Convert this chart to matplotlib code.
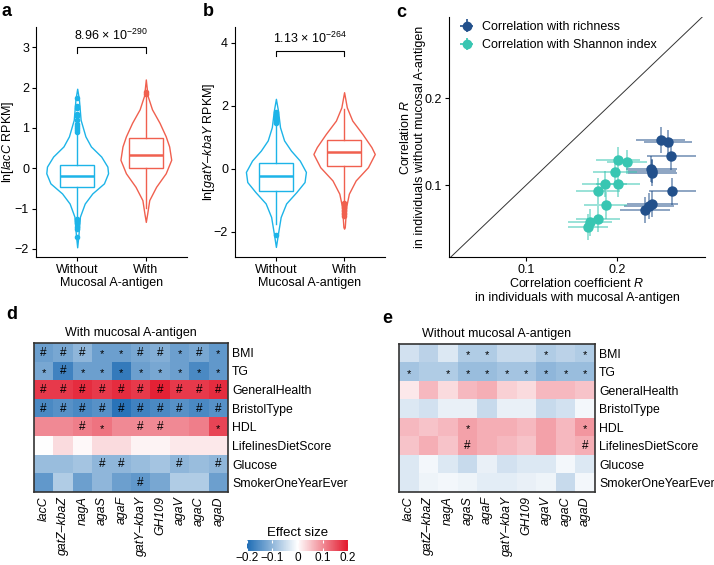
import numpy as np
import matplotlib
matplotlib.use("Agg")
import matplotlib.pyplot as plt
from matplotlib.colors import LinearSegmentedColormap, Normalize
from matplotlib.cm import ScalarMappable

plt.rcParams['font.family'] = ['Liberation Sans', 'DejaVu Sans']
plt.rcParams['mathtext.fontset'] = 'custom'
plt.rcParams['mathtext.rm'] = 'Liberation Sans'
plt.rcParams['mathtext.it'] = 'Liberation Sans:italic'
plt.rcParams['font.size'] = 9
plt.rcParams['axes.linewidth'] = 0.8

groups = ['Without', 'With']
col_without = '#1db4e8'
col_with = '#f0604f'

# violin outlines: value and half width
a_wo_y = [1.97, 1.71, 1.2, 0.79, 0.54, 0.29, 0.04, -0.125, -0.375, -0.625, -0.875, -1.2, -1.62, -1.96]
a_wo_w = [0, 0.025, 0.05, 0.12, 0.2, 0.35, 0.44, 0.45, 0.39, 0.22, 0.11, 0.04, 0.02, 0]
a_w_y = [2.2, 1.8, 1.46, 1.125, 0.79, 0.54, 0.21, -0.125, -0.46, -0.79, -1.125, -1.33]
a_w_w = [0, 0.025, 0.09, 0.2, 0.29, 0.34, 0.37, 0.29, 0.15, 0.05, 0.02, 0]
b_wo_y = [2.22, 1.85, 1.32, 0.9, 0.58, 0.26, -0.1, -0.42, -0.74, -1.1, -1.53, -2.06, -2.48]
b_wo_w = [0, 0.03, 0.06, 0.12, 0.22, 0.35, 0.44, 0.42, 0.3, 0.15, 0.07, 0.03, 0]
b_w_y = [2.43, 1.95, 1.53, 1.1, 0.69, 0.47, 0.05, -0.37, -0.79, -1.21, -1.85, -1.9]
b_w_w = [0, 0.04, 0.12, 0.27, 0.4, 0.45, 0.35, 0.17, 0.07, 0.03, 0.01, 0]

# box statistics
a_wo_box = dict(q1=-0.46, med=-0.19, q3=0.07, whislo=-1.2, whishi=0.88,
                fliers=[0.9, 0.95, 1.0, 1.05, 1.1, 1.2, 1.3, 1.35, 1.5, 1.55, 1.73,
                        -1.25, -1.3, -1.35, -1.45, -1.5, -1.7])
a_w_box = dict(q1=0.0, med=0.33, q3=0.75, whislo=-0.98, whishi=1.8, fliers=[1.85, 1.88])
b_wo_box = dict(q1=-0.71, med=-0.23, q3=0.18, whislo=-1.75, whishi=1.4,
                fliers=[1.45, 1.5, 1.55, 1.6, 1.65, 1.75, 1.8, -2.1])
b_w_box = dict(q1=0.1, med=0.53, q3=0.9, whislo=-1.05, whishi=1.9,
               fliers=[-1.1, -1.15, -1.2, -1.25, -1.3, -1.35, -1.4, -1.45, -1.5])

a_p = r'8.96 × 10$^{-290}$'
b_p = r'1.13 × 10$^{-264}$'

# panel c
rich_x = [0.2476, 0.2557, 0.2593, 0.2374, 0.2385, 0.238, 0.2604, 0.2385, 0.2348, 0.2304]
rich_y = [0.1523, 0.1492, 0.1332, 0.1187, 0.1141, 0.1165, 0.0931, 0.079, 0.076, 0.0721]
rich_xerr = [0.027, 0.026, 0.027, 0.028, 0.027, 0.026, 0.026, 0.028, 0.027, 0.027]
rich_yerr = [0.015, 0.014, 0.015, 0.015, 0.015, 0.014, 0.015, 0.015, 0.015, 0.015]
shan_x = [0.2007, 0.211, 0.1971, 0.2007, 0.1861, 0.1788, 0.1872, 0.1788, 0.1707, 0.1678]
shan_y = [0.1286, 0.1267, 0.1153, 0.1019, 0.1019, 0.0939, 0.0771, 0.0618, 0.0576, 0.0523]
shan_xerr = [0.024, 0.022, 0.024, 0.024, 0.025, 0.024, 0.024, 0.024, 0.024, 0.022]
shan_yerr = [0.015, 0.014, 0.015, 0.015, 0.015, 0.015, 0.015, 0.015, 0.015, 0.015]

# panels d/e
genes = ['lacC', 'gatZ–kbaZ', 'nagA', 'agaS', 'agaF', 'gatY–kbaY', 'GH109', 'agaV', 'agaC', 'agaD']
traits = ['BMI', 'TG', 'GeneralHealth', 'BristolType', 'HDL', 'LifelinesDietScore', 'Glucose', 'SmokerOneYearEver']
d_vals = [
    [-0.13, -0.12, -0.10, -0.13, -0.13, -0.12, -0.11, -0.13, -0.12, -0.14],
    [-0.12, -0.17, -0.13, -0.13, -0.18, -0.13, -0.12, -0.13, -0.16, -0.14],
    [0.17, 0.17, 0.18, 0.17, 0.18, 0.17, 0.19, 0.17, 0.17, 0.18],
    [-0.16, -0.15, -0.16, -0.15, -0.19, -0.17, -0.16, -0.15, -0.16, -0.15],
    [0.10, 0.10, 0.11, 0.12, 0.10, 0.10, 0.10, 0.10, 0.11, 0.16],
    [0.0, 0.03, 0.005, 0.03, 0.03, 0.01, 0.01, 0.02, 0.02, 0.02],
    [-0.09, -0.09, -0.08, -0.10, -0.10, -0.09, -0.08, -0.10, -0.09, -0.10],
    [-0.14, -0.07, -0.13, -0.10, -0.13, -0.14, -0.12, -0.07, -0.07, -0.13],
]
d_marks = [
    ['#', '#', '#', '*', '*', '#', '#', '*', '#', '*'],
    ['*', '#', '*', '*', '*', '*', '*', '*', '*', '*'],
    ['#'] * 10,
    ['#'] * 10,
    ['', '', '#', '*', '', '#', '#', '', '', '*'],
    [''] * 10,
    ['', '', '', '#', '#', '', '', '#', '', '#'],
    ['', '', '', '', '', '#', '', '', '', ''],
]
e_vals = [
    [-0.04, -0.06, -0.03, -0.07, -0.07, -0.05, -0.05, -0.07, -0.06, -0.07],
    [-0.08, -0.07, -0.07, -0.09, -0.09, -0.08, -0.08, -0.10, -0.09, -0.09],
    [0.02, 0.06, 0.03, 0.06, 0.07, 0.04, 0.03, 0.06, 0.06, 0.05],
    [-0.03, -0.04, -0.02, -0.02, -0.05, -0.02, -0.02, -0.05, -0.04, -0.01],
    [0.06, 0.05, 0.06, 0.08, 0.07, 0.07, 0.06, 0.08, 0.06, 0.09],
    [0.05, 0.07, 0.05, 0.08, 0.07, 0.06, 0.05, 0.08, 0.06, 0.07],
    [-0.03, -0.01, -0.03, -0.05, -0.02, -0.04, -0.03, -0.03, -0.01, -0.03],
    [-0.03, -0.015, -0.01, -0.015, -0.025, -0.025, -0.02, -0.015, -0.05, -0.01],
]
e_marks = [
    ['', '', '', '*', '*', '', '', '*', '', '*'],
    ['*', '', '*', '*', '*', '*', '*', '*', '*', '*'],
    [''] * 10,
    [''] * 10,
    ['', '', '', '*', '', '', '', '', '', '*'],
    ['', '', '', '#', '', '', '', '', '', '#'],
    [''] * 10,
    [''] * 10,
]

W, H = 714, 565
fig = plt.figure(figsize=(W / 100, H / 100), dpi=100)


def box(l, t, r, b):
    return [l / W, 1 - b / H, (r - l) / W, (b - t) / H]


def violin_box(ax, pos, ys, ws, st, color):
    ys = np.array(ys)
    ws = np.array(ws)
    ax.fill_betweenx(ys, pos - ws, pos + ws, facecolor='white', edgecolor=color, lw=1)
    ax.bxp([st], positions=[pos], widths=0.5, showcaps=False, patch_artist=True,
           boxprops=dict(facecolor='none', edgecolor=color, lw=1),
           whiskerprops=dict(color=color, lw=1),
           medianprops=dict(color=color, lw=1.8),
           flierprops=dict(marker='o', markerfacecolor=color, markeredgecolor=color, markersize=3))


def violin_panel(ax, data, ylim, yticks, ylabel, ptxt, ybr, labx):
    for i, (ys, ws, st, c) in enumerate(data):
        violin_box(ax, i + 1, ys, ws, st, c)
    ax.set_xlim(0.4, 2.6)
    ax.set_ylim(*ylim)
    ax.set_yticks(yticks)
    ax.set_yticklabels([str(t).replace('-', '−') for t in yticks])
    ax.set_xticks([1, 2])
    ax.set_xticklabels(groups)
    ax.set_xlabel('Mucosal A-antigen', labelpad=1)
    ax.set_ylabel(ylabel)
    ax.yaxis.set_label_coords(labx, 0.5)
    for s in ['top', 'right']:
        ax.spines[s].set_visible(False)
    ax.tick_params(length=3, width=0.8, pad=2)
    h = (ylim[1] - ylim[0]) * 0.025
    ax.plot([1, 1, 2, 2], [ybr - h, ybr, ybr, ybr - h], color='k', lw=0.8)
    ax.text(1.5, ybr + h * 0.8, ptxt, ha='center', va='bottom')


ax_a = fig.add_axes(box(36, 27, 187, 257))
violin_panel(ax_a, [(a_wo_y, a_wo_w, a_wo_box, col_without), (a_w_y, a_w_w, a_w_box, col_with)],
             (-2.2, 3.5), [-2, -1, 0, 1, 2, 3], r'ln[$\it{lacC}$ RPKM]', a_p, 3.0, -0.13)

ax_b = fig.add_axes(box(235, 27, 385, 257))
violin_panel(ax_b, [(b_wo_y, b_wo_w, b_wo_box, col_without), (b_w_y, b_w_w, b_w_box, col_with)],
             (-2.8, 4.5), [-2, 0, 2, 4], r'ln[$\it{gatY}$–$\it{kbaY}$ RPKM]', b_p, 3.75, -0.12)

# panel c
ax_c = fig.add_axes(box(449, 17, 705, 257))
rich_col = '#22508b'
shan_col = '#38c6b2'
ax_c.axline((0, 0), slope=1, color='#333333', lw=0.7)
ax_c.errorbar(rich_x, rich_y, xerr=rich_xerr, yerr=rich_yerr, fmt='none', ecolor=rich_col,
              alpha=0.6, elinewidth=1.2)
ax_c.errorbar(shan_x, shan_y, xerr=shan_xerr, yerr=shan_yerr, fmt='none', ecolor=shan_col,
              alpha=0.6, elinewidth=1.2)
ax_c.plot(rich_x, rich_y, 'o', color=rich_col, ms=6.5)
ax_c.plot(shan_x, shan_y, 'o', color=shan_col, ms=6.5)
h1 = ax_c.errorbar([], [], xerr=[], yerr=[], fmt='o', color=rich_col, ms=6, elinewidth=1.2)
h2 = ax_c.errorbar([], [], xerr=[], yerr=[], fmt='o', color=shan_col, ms=6, elinewidth=1.2)
ax_c.legend([h1, h2], ['Correlation with richness', 'Correlation with Shannon index'],
            loc='upper left', bbox_to_anchor=(0.0, 1.02), frameon=False, handlelength=1.4,
            handletextpad=0.5, borderaxespad=0.3, labelspacing=0.5)
ax_c.set_xlim(0.016, 0.296)
ax_c.set_ylim(0.018, 0.293)
ax_c.set_xticks([0.1, 0.2])
ax_c.set_yticks([0.1, 0.2])
ax_c.set_xlabel('Correlation coefficient $\\it{R}$\nin individuals with mucosal A-antigen',
                labelpad=1, linespacing=1.2)
ax_c.set_ylabel('Correlation $\\it{R}$\nin individuals without mucosal A-antigen',
                linespacing=1.2)
ax_c.yaxis.set_label_coords(-0.09, 0.5)
for s in ['top', 'right']:
    ax_c.spines[s].set_visible(False)
ax_c.tick_params(length=3, width=0.8, pad=2)

# heatmaps
cmap = LinearSegmentedColormap.from_list('eff', ['#1f6db5', '#ffffff', '#e3172c'])
norm = Normalize(-0.2, 0.2)


def heat(ax, vals, marks, title):
    ax.imshow(np.array(vals), cmap=cmap, norm=norm, aspect='auto', interpolation='nearest')
    for i in range(len(traits)):
        for j in range(len(genes)):
            m = marks[i][j]
            if m:
                ax.text(j, i + (0.12 if m == '*' else 0.02), m, ha='center', va='center',
                        fontsize=8.5 if m == '#' else 8, color='black')
    ax.set_xticks(range(len(genes)))
    ax.set_xticklabels(genes, rotation=90, style='italic', fontsize=8.8)
    ax.set_yticks(range(len(traits)))
    ax.set_yticklabels(traits, fontsize=8.8)
    ax.yaxis.tick_right()
    ax.tick_params(length=0, pad=3)
    for s in ax.spines.values():
        s.set_color('#333333')
        s.set_linewidth(1.2)
    ax.set_title(title, fontsize=9, pad=5)


ax_d = fig.add_axes(box(34, 343, 228, 492))
heat(ax_d, d_vals, d_marks, 'With mucosal A-antigen')
ax_e = fig.add_axes(box(399, 344, 595, 492))
heat(ax_e, e_vals, e_marks, 'Without mucosal A-antigen')

cax = fig.add_axes(box(247, 540, 348, 551))
cb = fig.colorbar(ScalarMappable(norm=norm, cmap=cmap), cax=cax, orientation='horizontal')
cb.outline.set_visible(False)
cb.set_ticks([-0.2, -0.1, 0, 0.1, 0.2])
cb.set_ticklabels(['−0.2', '−0.1', '0', '0.1', '0.2'])
cax.tick_params(axis='x', direction='in', color='white', length=2.5, width=0.8, top=True,
                labelsize=8.5, pad=1)
cax.set_title('Effect size', fontsize=9.5, pad=3)

# panel letters
for x, y, s in [(2, 3, 'a'), (203, 3, 'b'), (396, 4, 'c'), (6, 306, 'd'), (382, 310, 'e')]:
    fig.text(x / W, 1 - y / H, s, ha='left', va='top', fontsize=13, weight='bold')

fig.savefig('out.png', dpi=100)
